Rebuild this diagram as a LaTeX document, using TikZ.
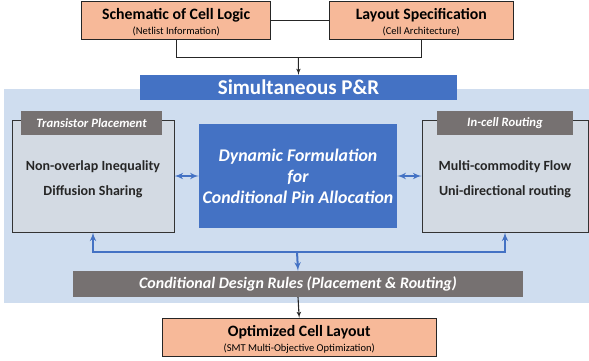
\documentclass[tikz,border=0pt]{standalone}
\usepackage{fontspec}
\setmainfont{Carlito}
\usetikzlibrary{positioning,arrows}

\definecolor{salmon}{RGB}{247,185,153}
\definecolor{officeblue}{RGB}{68,114,196}
\definecolor{paleblue}{RGB}{207,221,239}
\definecolor{boxgray}{RGB}{211,218,227}
\definecolor{tabgray}{RGB}{118,113,113}

\begin{document}
\begin{tikzpicture}[x=1pt,y=-1pt,>=latex',
  in node/.style={draw=black!85,line width=0.8pt,fill=salmon,inner sep=0pt,align=center},
  blue node/.style={fill=officeblue,text=white,inner sep=0pt,align=center},
  step box/.style={draw=black!80,line width=0.7pt,fill=boxgray,inner sep=0pt,minimum height=112pt},
  step text/.style={align=center,inner sep=0pt,yshift=-3pt,
    font=\fontsize{14}{25}\selectfont\bfseries,text=black!85},
  tab node/.style={fill=tabgray,text=white,inner sep=0pt,minimum height=24pt,
    font=\fontsize{12.7}{14}\selectfont\bfseries\itshape},
  title/.style={font=\fontsize{15.8}{17}\selectfont\bfseries},
  subtitle/.style={font=\fontsize{10.5}{12}\selectfont},
  black line/.style={line width=1.1pt,black!85},
  blue line/.style={line width=2pt,officeblue}]
   \useasboundingbox (0,0) rectangle (589,360);
   % background of the P&R block
   \fill[paleblue] (4,89.3) rectangle (589,303.3);

   \node[in node,minimum width=189pt,minimum height=38.3pt] (sch) at (176.2,20.2) {};
   \node[title]    at (176.2,15)  {Schematic of Cell Logic};
   \node[subtitle] at (176.2,31)  {(Netlist Information)};
   \node[in node,minimum width=183.5pt,minimum height=38.3pt] (lay) at (421.3,20.2) {};
   \node[title]    at (421.3,15)  {Layout Specification};
   \node[subtitle] at (421.3,31)  {(Cell Architecture)};
   \node[blue node,minimum width=317pt,minimum height=25pt,
     font=\fontsize{21}{23}\selectfont\bfseries] (spr) at (298.5,87.5) {Simultaneous P\&R};

   \node[step box,minimum width=162pt] (tp) at (93,176) {};
   \node[step text] at (tp) {Non-overlap Inequality\\Diffusion Sharing};
   \node[tab node,minimum width=141pt] (tptab) at (91.5,123) {Transistor Placement};
   \node[step box,minimum width=166pt] (ir) at (505,176) {};
   \node[step text] at (ir) {Multi-commodity Flow\\Uni-directional routing};
   \node[tab node,minimum width=136pt] (irtab) at (505,123) {In-cell Routing};
   \node[blue node,minimum width=198pt,minimum height=104pt,
     font=\fontsize{17.8}{21}\selectfont\bfseries\itshape] (dyn) at (298,176)
     {Dynamic Formulation\\for\\Conditional Pin Allocation};

   \node[fill=tabgray,text=white,inner sep=0pt,minimum width=450pt,minimum height=25.7pt,
     font=\fontsize{16}{18}\selectfont\bfseries\itshape] (cdr) at (298,284)
     {Conditional Design Rules (Placement \& Routing)};
   \node[in node,minimum width=273.7pt,minimum height=38.4pt] (opt) at (299.2,337.5) {};
   \node[title]    at (299.2,331.7) {Optimized Cell Layout};
   \node[subtitle] at (299.2,348.3) {(SMT Multi-Objective Optimization)};

   \coordinate (merge) at (298.3,57.5);
   \coordinate (bus) at (297,251.7);

   \draw[black line] (sch.east) -- (lay.west);
   \draw[black line] (sch.south) |- (merge) -| (lay.south);
   \draw[black line,->] (merge) -- (spr.north);
   \draw[black line,->] (cdr.south) -- (opt.north);

   \path[blue line,<->]
    (tp.east)  edge (dyn.west)
    (dyn.east) edge (ir.west);
   \draw[blue line,<->] (tp.south) |- (bus) -| (ir.south);
   \draw[blue line,->] (bus) -- (cdr.north);
\end{tikzpicture}
\end{document}
